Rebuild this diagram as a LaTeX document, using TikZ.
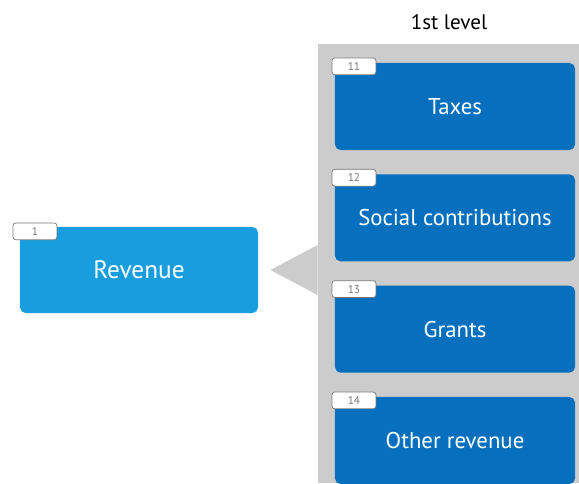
\documentclass[tikz,border=0pt]{standalone}
\usepackage{fontspec}
\setmainfont{PT Sans}
\usetikzlibrary{positioning,calc}

\definecolor{LevelGray}{RGB}{204,204,204}
\definecolor{TopBlue}{RGB}{24,158,222}
\definecolor{SubBlue}{RGB}{6,112,190}
\definecolor{TagGray}{RGB}{120,120,120}

\begin{document}
\begin{tikzpicture}[x=0.025cm,y=-0.025cm]
		\tikzstyle{every path}=[line width=0.5pt]
		\tikzstyle{topbox}=[fill=TopBlue,
								  rounded corners=4pt,
								  minimum width=5.95cm,
								  minimum height=2.15cm,
								  text=white,
								  font=\fontsize{18}{21}\selectfont]
		\tikzstyle{subbox}=[fill=SubBlue,
								  rounded corners=4pt,
								  minimum width=6.0cm,
								  minimum height=2.175cm,
								  text=white,
								  font=\fontsize{16.2}{19}\selectfont]
		\tikzstyle{tagbox}=[draw=TagGray,fill=white,
								  rounded corners=2pt,
								  minimum width=1.1cm,
								  minimum height=0.42cm,
								  inner sep=0pt,
								  anchor=north west,
								  text=TagGray,
								  font=\fontsize{8}{9}\selectfont]
		\tikzstyle{levelpanel}=[fill=LevelGray,
								  minimum width=6.525cm,
								  minimum height=10.975cm,
								  inner sep=0pt]

\useasboundingbox (0,0) rectangle (579,483);

% 1st level column
\node [levelpanel] at (448.5,263.5) (level1) {};
\node [font=\fontsize{15}{18}\selectfont] at (449,22) (title) {1st level};

\node [subbox] at (455,106.5) (taxes) {Taxes};
\node [subbox,below=0.59cm of taxes] (social) {Social contributions};
\node [subbox,below=0.59cm of social] (grants) {Grants};
\node [subbox,below=0.59cm of grants] (other) {Other revenue};

% top item
\node [topbox] at (139,270) (revenue) {Revenue};

% pointer from the column to the top item
\fill[LevelGray] ($(level1.west |- revenue.east)+(0,-25)$)
	-- ($(revenue.east)+(12,0)$)
	-- ($(level1.west |- revenue.east)+(0,25)$) -- cycle;

% code tags
\node [tagbox] at ($(revenue.north west)+(-7,-4)$) (tag1) {1};
\node [tagbox] at ($(taxes.north west)+(-3,-5)$) (tag11) {11};
\node [tagbox] at ($(social.north west)+(-3,-5)$) (tag12) {12};
\node [tagbox] at ($(grants.north west)+(-3,-5)$) (tag13) {13};
\node [tagbox] at ($(other.north west)+(-3,-5)$) (tag14) {14};

\end{tikzpicture}
\end{document}
